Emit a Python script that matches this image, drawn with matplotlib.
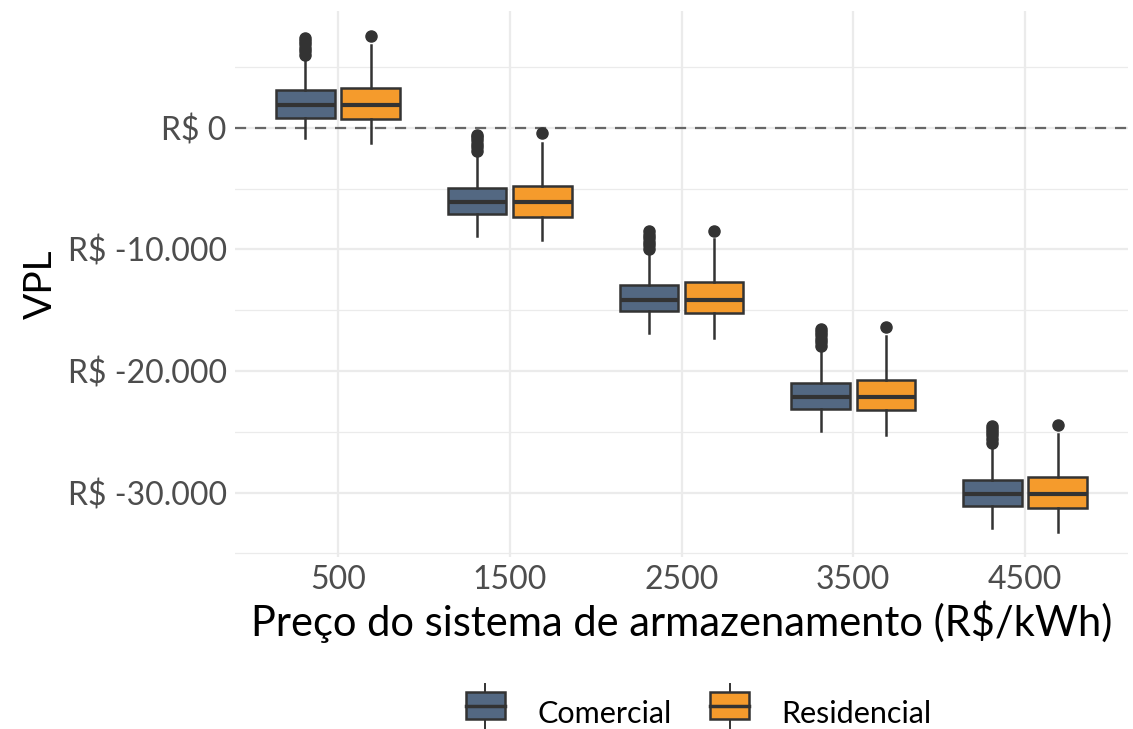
import matplotlib
matplotlib.use("Agg")
import matplotlib.pyplot as plt
from matplotlib.legend_handler import HandlerBase
from matplotlib.patches import Rectangle
from matplotlib.lines import Line2D
from matplotlib.ticker import FuncFormatter, MultipleLocator

plt.rcParams['font.family'] = ['Lato', 'DejaVu Sans']

precos = ["500", "1500", "2500", "3500", "4500"]
grupos = ["Comercial", "Residencial"]
cores = {"Comercial": "#536882", "Residencial": "#f59b2c"}

# box stats (R$)
com_q1 = [850, -7090, -15090, -23110, -31120]
com_med = [1860, -6060, -14130, -22130, -30100]
com_q3 = [3080, -4960, -12960, -20980, -28980]
com_lo = [-850, -8930, -16870, -24900, -32890]
com_hi = [5860, -2080, -10080, -18100, -26050]
com_out = [
    [6000, 6300, 6600, 6900, 7150, 7370],
    [-1900, -1600, -1300, -1000, -780, -575],
    [-9950, -9650, -9350, -9050, -8780, -8520],
    [-17950, -17650, -17350, -17050, -16780, -16540],
    [-25900, -25600, -25300, -25000, -24750, -24490],
]

res_q1 = [740, -7290, -15230, -23230, -31250]
res_med = [1860, -6060, -14130, -22130, -30100]
res_q3 = [3260, -4740, -12680, -20730, -28740]
res_lo = [-1260, -9260, -17280, -25230, -33260]
res_hi = [6820, -1210, -9150, -17150, -25150]
res_out = [[7580], [-435], [-8440], [-16380], [-24400]]


def make_stats(q1, med, q3, lo, hi, out):
    return [dict(q1=a, med=b, q3=c, whislo=d, whishi=e, fliers=f)
            for a, b, c, d, e, f in zip(q1, med, q3, lo, hi, out)]


dados = {
    "Comercial": make_stats(com_q1, com_med, com_q3, com_lo, com_hi, com_out),
    "Residencial": make_stats(res_q1, res_med, res_q3, res_lo, res_hi, res_out),
}

edge = "#333333"

fig = plt.figure(figsize=(11.33, 7.29), dpi=100)
ax = fig.add_axes([235 / 1133, 1 - 557 / 729, (1128 - 235) / 1133, (557 - 11) / 729])

desloc = 0.19
for i, g in enumerate(grupos):
    pos = [k + (2 * i - 1) * desloc for k in range(len(precos))]
    ax.bxp(dados[g], positions=pos, widths=0.34, patch_artist=True,
           showcaps=False,
           boxprops=dict(facecolor=cores[g], edgecolor=edge, linewidth=1.8),
           medianprops=dict(color=edge, linewidth=3),
           whiskerprops=dict(color=edge, linewidth=1.8),
           flierprops=dict(marker="o", markerfacecolor=edge, markeredgecolor=edge,
                           markersize=8),
           zorder=3)

ax.axhline(0, color="#666666", linestyle=(0, (5, 4)), linewidth=1.6, zorder=2)

ax.set_xlim(-0.6, 4.6)
ax.set_ylim(-35300, 9620)
ax.set_xticks(range(len(precos)))
ax.set_xticklabels(precos)
ax.yaxis.set_major_locator(MultipleLocator(10000))
ax.yaxis.set_minor_locator(MultipleLocator(5000))
ax.yaxis.set_major_formatter(FuncFormatter(
    lambda v, p: "R$ " + f"{int(round(v)):,}".replace(",", ".")))

ax.grid(True, which="major", color="#ebebeb", linewidth=1.6, zorder=0)
ax.grid(True, which="minor", axis="y", color="#ebebeb", linewidth=0.9, zorder=0)
ax.set_axisbelow(True)
for s in ax.spines.values():
    s.set_visible(False)
ax.tick_params(which="both", length=0)
ax.tick_params(axis="both", labelsize=23, labelcolor="#4d4d4d", pad=6)

ax.set_xlabel("Preço do sistema de armazenamento (R$/kWh)", fontsize=30, labelpad=4)
ax.set_ylabel("VPL", fontsize=28, labelpad=6)


class BoxHandler(HandlerBase):
    def create_artists(self, legend, orig, xd, yd, w, h, fontsize, trans):
        cx = xd + w / 2
        bw = w * 0.9
        bh = h * 1.0
        y0 = yd + h / 2 - bh / 2
        wl = Line2D([cx, cx], [yd - h * 0.3, yd + h * 1.3], color=edge, lw=1.4,
                    transform=trans)
        r = Rectangle((cx - bw / 2, y0), bw, bh, facecolor=orig.get_facecolor(),
                      edgecolor=edge, lw=1.8, transform=trans)
        m = Line2D([cx - bw / 2, cx + bw / 2], [yd + h / 2] * 2, color=edge, lw=2.5,
                   transform=trans)
        return [wl, r, m]


handles = [Rectangle((0, 0), 1, 1, facecolor=cores[g]) for g in grupos]
fig.legend(handles, grupos, handler_map={Rectangle: BoxHandler()},
           loc="center", bbox_to_anchor=(0.616, 1 - 713 / 729), ncol=2,
           frameon=False, fontsize=22, handlelength=1.4, handleheight=1.0,
           columnspacing=1.2, handletextpad=1.0)

fig.savefig("out.png", dpi=100, facecolor="white")
